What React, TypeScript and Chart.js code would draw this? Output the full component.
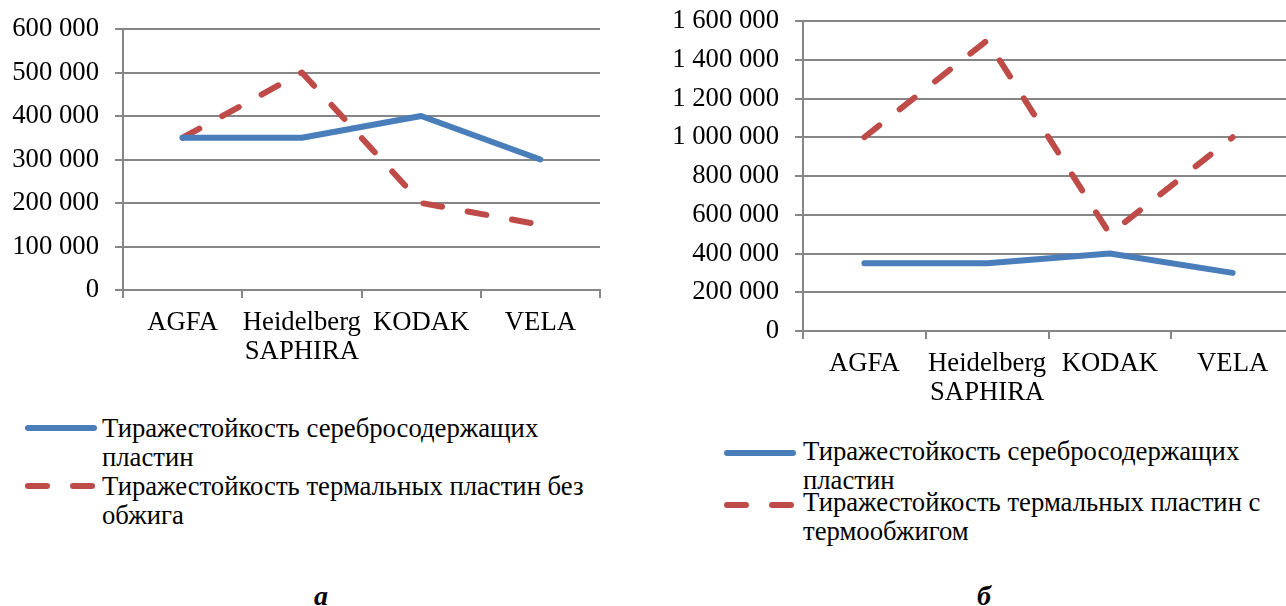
import React, { useEffect, useRef } from "react";
import { Chart, registerables } from "chart.js";

Chart.register(...registerables);

// ---------- data ----------
const categories: string[][] = [["AGFA"], ["Heidelberg", "SAPHIRA"], ["KODAK"], ["VELA"]];

const silverA = [350000, 350000, 400000, 300000];
const thermalA = [350000, 500000, 200000, 150000];
const yMaxA = 600000;
const yStepA = 100000;

const silverB = [350000, 350000, 400000, 300000];
const thermalB = [1000000, 1500000, 500000, 1000000];
const yMaxB = 1600000;
const yStepB = 200000;

const legendSilver = ["Тиражестойкость серебросодержащих", "пластин"];
const legendThermalA = ["Тиражестойкость термальных пластин без", "обжига"];
const legendThermalB = ["Тиражестойкость термальных пластин с", "термообжигом"];
const captionA = "а";
const captionB = "б";

// ---------- styles ----------
const FONT = "'Liberation Serif', 'Times New Roman', serif";
const FS = 26.7;
const BLUE = "#4a7ebb";
const RED = "#be4b48";
const GRID = "#868686";

const fmt = (v: number) => String(v).replace(/\B(?=(\d{3})+(?!\d))/g, " ");

function makeConfig(
  silver: number[],
  thermal: number[],
  yMax: number,
  yStep: number,
  yWidth: number,
  xHeight: number,
  pad: { top: number; right: number }
): any {
  return {
    type: "line",
    data: {
      labels: categories,
      datasets: [
        {
          data: silver,
          borderColor: BLUE,
          borderWidth: 6,
          borderCapStyle: "round",
          borderJoinStyle: "round",
          pointRadius: 0,
          tension: 0,
          fill: false,
        },
        {
          data: thermal,
          borderColor: RED,
          borderWidth: 6,
          borderCapStyle: "round",
          borderJoinStyle: "round",
          borderDash: [19, 26],
          pointRadius: 0,
          tension: 0,
          fill: false,
        },
      ],
    },
    options: {
      responsive: false,
      animation: false,
      devicePixelRatio: 1,
      layout: { padding: { top: pad.top, right: pad.right, bottom: 0, left: 0 } },
      plugins: {
        legend: { display: false },
        tooltip: { enabled: false },
      },
      scales: {
        x: {
          type: "category",
          offset: true,
          grid: {
            offset: true,
            drawOnChartArea: false,
            drawTicks: true,
            tickLength: 8,
            color: GRID,
            lineWidth: 2,
          },
          border: { display: true, color: GRID, width: 2 },
          ticks: {
            color: "#000",
            font: { family: FONT, size: FS, lineHeight: 1.09 },
            padding: 10,
            maxRotation: 0,
            minRotation: 0,
            autoSkip: false,
          },
          afterFit: (s: any) => {
            s.height = xHeight;
            s.paddingLeft = 0;
            s.paddingRight = 0;
            s.paddingTop = 0;
            s.paddingBottom = 0;
          },
        },
        y: {
          min: 0,
          max: yMax,
          grid: {
            color: GRID,
            lineWidth: 2,
            tickLength: 8,
            drawTicks: true,
          },
          border: { display: true, color: GRID, width: 2 },
          ticks: {
            stepSize: yStep,
            color: "#000",
            font: { family: FONT, size: FS },
            padding: 16,
            callback: (v: any) => fmt(Number(v)),
          },
          afterFit: (s: any) => {
            s.width = yWidth;
            s.paddingLeft = 0;
            s.paddingRight = 0;
            s.paddingTop = 0;
            s.paddingBottom = 0;
          },
        },
      },
    },
  };
}

function ChartCanvas(props: {
  left: number;
  top: number;
  width: number;
  height: number;
  config: () => any;
}) {
  const ref = useRef<HTMLCanvasElement | null>(null);
  useEffect(() => {
    if (!ref.current) return;
    const chart = new Chart(ref.current, props.config());
    return () => chart.destroy();
  }, []);
  return (
    <canvas
      ref={ref}
      width={props.width}
      height={props.height}
      style={{
        position: "absolute",
        left: props.left,
        top: props.top,
        width: props.width,
        height: props.height,
      }}
    />
  );
}

function LegendText(props: { left: number; top: number; lines: string[] }) {
  return (
    <div
      style={{
        position: "absolute",
        left: props.left,
        top: props.top,
        fontFamily: FONT,
        fontSize: FS,
        lineHeight: "29px",
        color: "#000",
        whiteSpace: "nowrap",
      }}
    >
      {props.lines.map((l, i) => (
        <div key={i}>{l}</div>
      ))}
    </div>
  );
}

function Solid(props: { left: number; cy: number }) {
  return (
    <div
      style={{
        position: "absolute",
        left: props.left,
        top: props.cy - 3,
        width: 72,
        height: 6,
        borderRadius: 3,
        background: BLUE,
      }}
    />
  );
}

function Dashed(props: { left: number; cy: number }) {
  const d = { position: "absolute" as const, top: props.cy - 3, width: 25, height: 6, borderRadius: 3, background: RED };
  return (
    <>
      <div style={{ ...d, left: props.left }} />
      <div style={{ ...d, left: props.left + 45 }} />
    </>
  );
}

function Caption(props: { left: number; text: string }) {
  return (
    <div
      style={{
        position: "absolute",
        left: props.left,
        top: 580,
        fontFamily: FONT,
        fontSize: 28,
        lineHeight: "32px",
        fontWeight: "bold",
        fontStyle: "italic",
        color: "#000",
      }}
    >
      {props.text}
    </div>
  );
}

export default function App() {
  return (
    <div
      style={{
        position: "absolute",
        left: 0,
        top: 0,
        width: 1286,
        height: 606,
        overflow: "hidden",
        background: "#fff",
      }}
    >
      <ChartCanvas
        left={0}
        top={0}
        width={620}
        height={380}
        config={() => makeConfig(silverA, thermalA, yMaxA, yStepA, 123, 90, { top: 29, right: 20 })}
      />
      <ChartCanvas
        left={640}
        top={0}
        width={670}
        height={420}
        config={() => makeConfig(silverB, thermalB, yMaxB, yStepB, 163, 89, { top: 21, right: 16 })}
      />

      <Solid left={25} cy={428} />
      <LegendText left={102} top={414} lines={legendSilver} />
      <Dashed left={25} cy={486} />
      <LegendText left={102} top={472} lines={legendThermalA} />

      <Solid left={724} cy={453} />
      <LegendText left={803} top={437} lines={legendSilver} />
      <Dashed left={724} cy={505} />
      <LegendText left={803} top={488} lines={legendThermalB} />

      <Caption left={314} text={captionA} />
      <Caption left={977} text={captionB} />
    </div>
  );
}
